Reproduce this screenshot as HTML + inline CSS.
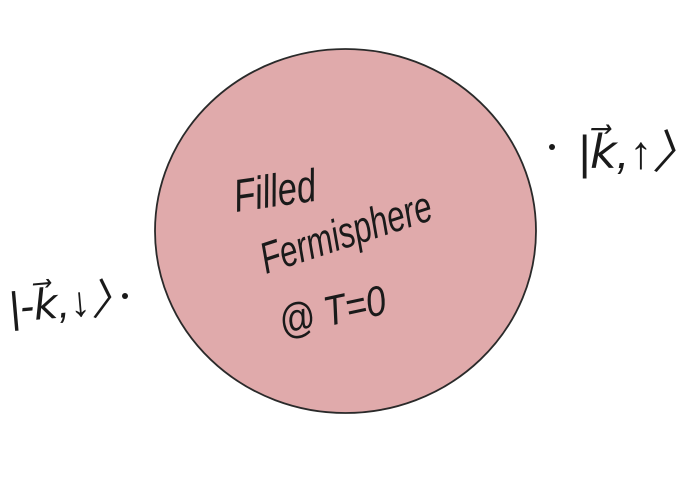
<!DOCTYPE html>
<html><head><meta charset="utf-8"><style>
html,body{margin:0;padding:0;background:#fff;}
svg{display:block;}
text{font-family:"Liberation Sans",sans-serif;fill:#1a1a1a;font-style:italic;}
</style></head><body>
<svg width="700" height="477" viewBox="0 0 700 477">
  <ellipse cx="345.5" cy="231" rx="190.5" ry="182" fill="#e0aaab" stroke="#2a2a2a" stroke-width="1.8"/>
  <text x="0" y="0" font-size="46" transform="translate(236 212) rotate(-8) scale(0.75 1)">Filled</text>
  <text x="0" y="0" font-size="44" transform="translate(266 274) rotate(-18) scale(0.72 1)">Fermisphere</text>
  <text x="0" y="0" font-size="42" transform="translate(282 336) rotate(-12) scale(0.85 1)">@ T=0</text>
  <circle cx="552" cy="147" r="3" fill="#1a1a1a"/>
  <text x="578" y="168" font-size="46">|k⃗,↑〉</text>
  <circle cx="125" cy="296" r="3" fill="#1a1a1a"/>
  <text x="10" y="322" font-size="42" transform="rotate(-5 10 322)">|-k⃗,↓〉</text>
</svg>
</body></html>
